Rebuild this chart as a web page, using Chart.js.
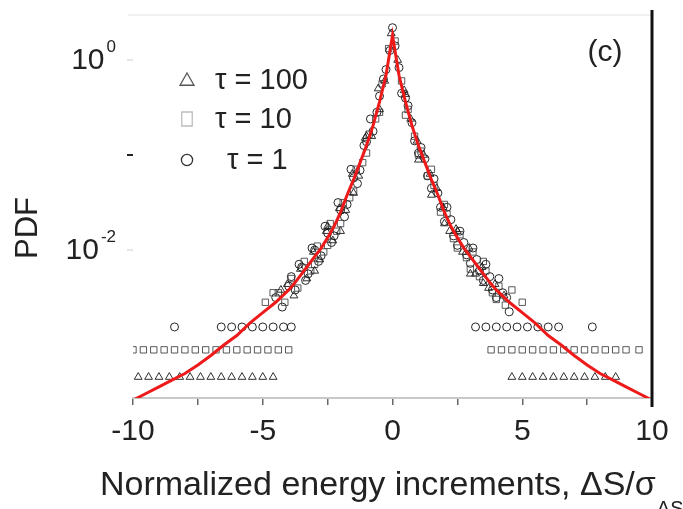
<!DOCTYPE html>
<html>
<head>
<meta charset="utf-8">
<title>PDF of normalized energy increments</title>
<script src="https://cdn.jsdelivr.net/npm/chart.js@4.4.1/dist/chart.umd.min.js"></script>
<style>
  html, body { margin: 0; padding: 0; background: #fff; }
  #pdfChart { display: block; }
</style>
</head>
<body>
<canvas id="pdfChart" width="683" height="509"></canvas>
<script>
// red fitted curve
const xCurve = [-10, -9.5, -9, -8.5, -8, -7.5, -7, -6.5, -6, -5.5, -5, -4.5, -4, -3.75, -3.5, -3.25, -3, -2.75, -2.5, -2.25, -2, -1.75, -1.5, -1.25, -1, -0.75, -0.5, -0.25, 0,
    0.25, 0.5, 0.75, 1, 1.25, 1.5, 1.75, 2, 2.25, 2.5, 2.75, 3, 3.25, 3.5, 3.75, 4, 4.5, 5, 5.5, 6, 6.5, 7, 7.5, 8, 8.5, 9, 9.5, 10];
const pdfCurve = [0.000263, 0.000309, 0.000363, 0.000427, 0.000501, 0.000617, 0.000776, 0.001, 0.00126, 0.0017, 0.00219, 0.00282, 0.0038, 0.00457, 0.00562, 0.00692, 0.00851, 0.0105, 0.0135, 0.0178, 0.0251, 0.038, 0.055, 0.0832, 0.126, 0.204, 0.363, 0.692, 1.82,
    0.692, 0.363, 0.204, 0.126, 0.0832, 0.055, 0.038, 0.0251, 0.0178, 0.0135, 0.0105, 0.00851, 0.00692, 0.00562, 0.00457, 0.0038, 0.00282, 0.00219, 0.0017, 0.00126, 0.001, 0.000776, 0.000617, 0.000501, 0.000427, 0.000363, 0.000309, 0.000263];

// tau = 100 (triangles)
const xTau100 = [-4.05, -3.8, -3.55, -3.3, -3.05, -2.8, -2.55, -2.3, -2.05, -1.8, -1.55, -1.3, -1.05, -0.8, -0.55, -0.3, -0.05, 0.2, 0.45, 0.7, 0.95, 1.2, 1.45, 1.7, 1.95, 2.2, 2.45, 2.7, 2.95, 3.2, 3.45, 3.7, 3.95,
    -4.3, -3, -2.5, -2, -1.5, -1, -0.5, 0.5, 1, 1.5, 2, 2.5, 3, 3.5, 4.3,
    -9.8, -9.4, -9, -8.6, -8.2, -7.8, -7.4, -7, -6.6, -6.2, -5.8, -5.4, -5, -4.6, 4.6, 5, 5.4, 5.8, 6.2, 6.6, 7, 7.4, 7.8, 8.2, 8.6];
const pdfTau100 = [0.00437, 0.00331, 0.00631, 0.00501, 0.00955, 0.00794, 0.0158, 0.0126, 0.0275, 0.0263, 0.0631, 0.0603, 0.151, 0.158, 0.501, 0.603, 1.905, 1.0, 0.479, 0.24, 0.141, 0.1, 0.0631, 0.0447, 0.0282, 0.0158, 0.0166, 0.00955, 0.0105, 0.00562, 0.0066, 0.00398, 0.00437,
    0.0038, 0.00603, 0.0178, 0.0158, 0.0398, 0.158, 0.302, 0.437, 0.0891, 0.038, 0.019, 0.0158, 0.00562, 0.00447, 0.00331,
    0.00046, 0.00046, 0.00046, 0.00046, 0.00046, 0.00046, 0.00046, 0.00046, 0.00046, 0.00046, 0.00046, 0.00046, 0.00046, 0.00046, 0.00046, 0.00046, 0.00046, 0.00046, 0.00046, 0.00046, 0.00046, 0.00046, 0.00046, 0.00046, 0.00046];

// tau = 10 (squares)
const xTau10 = [-4.4, -4.15, -3.9, -3.65, -3.4, -3.15, -2.9, -2.65, -2.4, -2.15, -1.9, -1.65, -1.4, -1.15, -0.9, -0.65, -0.4, -0.15, 0.1, 0.35, 0.6, 0.85, 1.1, 1.35, 1.6, 1.85, 2.1, 2.35, 2.6, 2.85, 3.1, 3.35, 3.6, 3.85, 4.1, 4.35,
    -4.9, -4.6, -3, -2.5, -2, -1.5, -1, -0.5, 0.5, 1, 1.5, 2, 2.5, 3, 3.5, 4, 4.6, 5,
    -10, -9.6, -9.2, -8.8, -8.4, -8, -7.6, -7.2, -6.8, -6.4, -6, -5.6, -5.2, -4.8, -4.4, -4, 3.8, 4.2, 4.6, 5, 5.4, 5.8, 6.2, 6.6, 7, 7.4, 7.8, 8.2, 8.6, 9, 9.5];
const pdfTau10 = [0.00355, 0.00282, 0.00501, 0.00398, 0.00759, 0.00603, 0.011, 0.00955, 0.019, 0.0158, 0.0316, 0.0355, 0.0708, 0.0832, 0.166, 0.24, 0.562, 1.32, 1.585, 0.603, 0.302, 0.158, 0.11, 0.0603, 0.0479, 0.0251, 0.024, 0.0132, 0.0145, 0.00832, 0.00955, 0.00525, 0.00603, 0.00355, 0.00417, 0.00263,
    0.00282, 0.00355, 0.00708, 0.0112, 0.019, 0.0417, 0.105, 0.282, 0.263, 0.1, 0.0708, 0.0302, 0.0105, 0.00631, 0.00759, 0.00302, 0.0038, 0.00282,
    0.00089, 0.00089, 0.00089, 0.00089, 0.00089, 0.00089, 0.00089, 0.00089, 0.00089, 0.00089, 0.00089, 0.00089, 0.00089, 0.00089, 0.00089, 0.00089, 0.00089, 0.00089, 0.00089, 0.00089, 0.00089, 0.00089, 0.00089, 0.00089, 0.00089, 0.00089, 0.00089, 0.00089, 0.00089, 0.00089, 0.00089];

// tau = 1 (circles)
const xTau1 = [-4.5, -4.25, -4, -3.75, -3.5, -3.25, -3, -2.75, -2.5, -2.25, -2, -1.75, -1.5, -1.25, -1, -0.75, -0.5, -0.25, 0, 0.25, 0.5, 0.75, 1, 1.25, 1.5, 1.75, 2, 2.25, 2.5, 2.75, 3, 3.25, 3.5, 3.75, 4, 4.25, 4.5,
    -3.9, -3.6, -3.35, -3.1, -2.85, -2.6, -2.35, -2.1, -1.85, -1.6, -1.35, -1.1, -0.85, -0.6, -0.35, -0.1, 0.1, 0.35, 0.6, 0.85, 1.1, 1.35, 1.6, 1.85, 2.1, 2.35, 2.6, 2.85, 3.1, 3.35, 3.6, 3.85, 4.1, 4.4,
    -8.4, -6.6, -6.2, -5.8, -5.4, -5, -4.6, -4.2, -3.9, 3.2, 3.6, 4, 4.4, 4.8, 5.2, 5.6, 6, 6.4, 7.7];
const pdfTau1 = [0.00316, 0.00251, 0.00417, 0.0038, 0.0066, 0.00562, 0.01, 0.0087, 0.0151, 0.0141, 0.0263, 0.0302, 0.0575, 0.0692, 0.138, 0.178, 0.417, 0.794, 2.19, 0.832, 0.398, 0.219, 0.105, 0.0912, 0.0447, 0.0398, 0.02, 0.0209, 0.0112, 0.012, 0.00724, 0.00794, 0.00479, 0.00525, 0.00316, 0.00355, 0.00224,
    0.00525, 0.00708, 0.00479, 0.0105, 0.00759, 0.0178, 0.012, 0.0316, 0.0224, 0.0708, 0.0501, 0.126, 0.24, 0.282, 0.631, 1.26, 1.41, 0.447, 0.331, 0.141, 0.12, 0.0603, 0.0562, 0.0282, 0.0282, 0.0141, 0.0158, 0.00891, 0.0105, 0.00603, 0.00708, 0.0038, 0.00501, 0.00316,
    0.00155, 0.00155, 0.00155, 0.00155, 0.00155, 0.00155, 0.00155, 0.00155, 0.00155, 0.00155, 0.00155, 0.00155, 0.00155, 0.00155, 0.00155, 0.00155, 0.00155, 0.00155, 0.00155];

// axis ticks and labels
const yTickValues = [1, 0.1, 0.01];
const yLabelValues = [1, 0.01];
const yLabelExps = ['0', '-2'];
const legendLabels = ['\u03c4 = 100', '\u03c4 = 10', '\u03c4 = 1'];

const FONT = '"Liberation Sans", Arial, sans-serif';

function toPoints(xs, ys) {
    return xs.map((x, i) => ({ x: x, y: ys[i] }));
}

function drawMarker(ctx, style, cx, cy, r) {
    ctx.beginPath();
    if (style === 'triangle') {
        ctx.moveTo(cx, cy - r);
        ctx.lineTo(cx - r, cy + r * 0.75);
        ctx.lineTo(cx + r, cy + r * 0.75);
        ctx.closePath();
    } else if (style === 'rect') {
        ctx.rect(cx - r * 0.75, cy - r, r * 1.5, r * 2);
    } else {
        ctx.arc(cx, cy, r * 0.8, 0, Math.PI * 2);
    }
    ctx.stroke();
}

// frame lines, tick labels with exponents, titles, legend
const decorations = {
    id: 'decorations',
    afterDraw(chart) {
        const ctx = chart.ctx;
        const area = chart.chartArea;
        const yScale = chart.scales.y;
        ctx.save();

        ctx.strokeStyle = '#ececec';
        ctx.lineWidth = 1.5;
        ctx.beginPath();
        ctx.moveTo(area.left - 5, area.top);
        ctx.lineTo(area.right, area.top);
        ctx.stroke();

        ctx.strokeStyle = '#111';
        ctx.lineWidth = 3;
        ctx.beginPath();
        ctx.moveTo(area.right, area.top - 5);
        ctx.lineTo(area.right, area.bottom + 9);
        ctx.stroke();

        // y tick labels: 10 with superscript
        ctx.fillStyle = '#222';
        ctx.textBaseline = 'middle';
        ctx.textAlign = 'right';
        yLabelValues.forEach((v, i) => {
            const py = yScale.getPixelForValue(v);
            ctx.font = '17px ' + FONT;
            const supW = ctx.measureText(yLabelExps[i]).width;
            ctx.fillText(yLabelExps[i], 116, py - 13);
            ctx.font = '30px ' + FONT;
            ctx.fillText('10', 116 - supW - 2, py + 1);
        });

        // y title
        ctx.save();
        ctx.translate(28, 228);
        ctx.rotate(-Math.PI / 2);
        ctx.textAlign = 'center';
        ctx.font = '31px ' + FONT;
        ctx.fillText('PDF', 0, 0);
        ctx.restore();

        // x title with subscript
        ctx.textAlign = 'left';
        ctx.textBaseline = 'alphabetic';
        ctx.font = '34px ' + FONT;
        const title = 'Normalized energy increments, \u0394S/\u03c3';
        ctx.fillText(title, 100, 495);
        const tw = ctx.measureText(title).width;
        ctx.font = '20px ' + FONT;
        ctx.fillText('\u0394S', 100 + tw + 1, 515);

        // panel label
        ctx.textAlign = 'center';
        ctx.textBaseline = 'middle';
        ctx.font = '30px ' + FONT;
        ctx.fillText('(c)', 605, 53);

        // legend
        const rows = [80, 119, 160];
        const textX = [215, 215, 227];
        const scatterSets = chart.data.datasets.slice(1);
        ctx.textAlign = 'left';
        ctx.font = '29px ' + FONT;
        scatterSets.forEach((ds, i) => {
            ctx.strokeStyle = ds.legendColor;
            ctx.lineWidth = 1.3;
            drawMarker(ctx, ds.pointStyle, 187, rows[i], 7);
            ctx.fillStyle = '#222';
            ctx.fillText(legendLabels[i], textX[i], rows[i] + 1);
        });

        ctx.restore();
    }
};

new Chart(document.getElementById('pdfChart'), {
    type: 'scatter',
    data: {
        datasets: [
            {
                label: 'fit',
                data: toPoints(xCurve, pdfCurve),
                showLine: true,
                borderColor: '#ee1a1a',
                borderWidth: 3,
                pointRadius: 0,
                tension: 0,
                order: 0
            },
            {
                label: legendLabels[0],
                data: toPoints(xTau100, pdfTau100),
                pointStyle: 'triangle',
                pointRadius: 4.5,
                borderWidth: 1,
                borderColor: 'rgba(25,25,25,0.9)',
                backgroundColor: 'rgba(0,0,0,0)',
                legendColor: '#555',
                order: 1
            },
            {
                label: legendLabels[1],
                data: toPoints(xTau10, pdfTau10),
                pointStyle: 'rect',
                pointRadius: 4.5,
                borderWidth: 1,
                borderColor: 'rgba(60,60,60,0.85)',
                backgroundColor: 'rgba(0,0,0,0)',
                legendColor: '#bdbdbd',
                order: 1
            },
            {
                label: legendLabels[2],
                data: toPoints(xTau1, pdfTau1),
                pointStyle: 'circle',
                pointRadius: 4,
                borderWidth: 1,
                borderColor: 'rgba(15,15,15,0.9)',
                backgroundColor: 'rgba(0,0,0,0)',
                legendColor: '#333',
                order: 1
            }
        ]
    },
    options: {
        responsive: false,
        animation: false,
        devicePixelRatio: 1,
        layout: { padding: { top: 15, right: 31, left: 0, bottom: 0 } },
        plugins: {
            legend: { display: false },
            tooltip: { enabled: false }
        },
        scales: {
            x: {
                type: 'linear',
                min: -10,
                max: 10,
                afterFit(scale) { scale.height = 111; },
                border: { color: '#c8c8c8', width: 2 },
                grid: { drawOnChartArea: false, tickLength: 7, color: '#666', lineWidth: 1.5 },
                ticks: {
                    stepSize: 2.5,
                    autoSkip: false,
                    maxRotation: 0,
                    padding: 9,
                    color: '#222',
                    font: { family: FONT, size: 30 },
                    callback: v => (v % 5 === 0 ? String(v) : '')
                }
            },
            y: {
                type: 'logarithmic',
                min: 2.77e-4,
                max: 2.98,
                afterFit(scale) { scale.width = 133; },
                afterBuildTicks(scale) { scale.ticks = yTickValues.map(v => ({ value: v })); },
                border: { display: false },
                grid: {
                    drawOnChartArea: false,
                    tickLength: 6,
                    lineWidth: 2,
                    color: c => (c.tick && c.tick.value === 0.1 ? '#222' : '#e6e6e6')
                },
                ticks: { display: false }
            }
        }
    },
    plugins: [decorations]
});
</script>
</body>
</html>
